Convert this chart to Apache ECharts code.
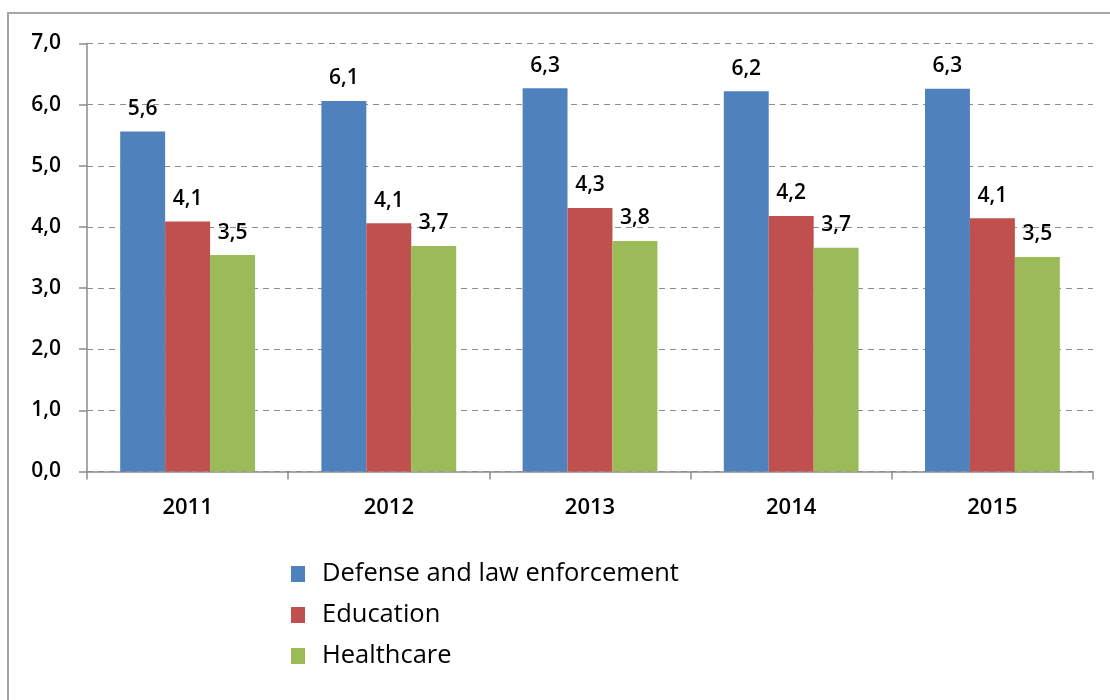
<!DOCTYPE html>
<html>
<head>
<meta charset="utf-8">
<script src="https://cdn.jsdelivr.net/npm/echarts@6/dist/echarts.min.js"></script>
<style>html,body{margin:0;padding:0;background:#fff}#c{width:1110px;height:700px}</style>
</head>
<body>
<div id="c"></div>
<script>
const categories = ['2011', '2012', '2013', '2014', '2015'];
const seriesNames = ['Defense and law enforcement', 'Education', 'Healthcare'];
const defense = [5.56, 6.06, 6.27, 6.22, 6.26];
const education = [4.09, 4.06, 4.31, 4.18, 4.14];
const healthcare = [3.54, 3.69, 3.77, 3.66, 3.51];
const colors = ['#4F81BD', '#C0504D', '#9BBB59'];

const fmt = v => Number(v).toFixed(1).replace('.', ',');
const FONT = '"Open Sans", "Noto Sans", sans-serif';

const chart = echarts.init(document.getElementById('c'), null, {renderer: 'canvas'});
const mk = (name, data, color) => ({
  name, type: 'bar', data,
  barGap: '0%', barCategoryGap: '33%',
  itemStyle: {color},
  label: {
    show: true, position: 'top', distance: 12,
    formatter: p => fmt(p.value),
    fontFamily: FONT, fontSize: 21, fontWeight: 600, color: '#000'
  }
});
chart.setOption({
  animation: false,
  color: colors,
  graphic: [{
    type: 'rect', silent: true,
    shape: {x: 8, y: 13, width: 1200, height: 800},
    style: {fill: 'none', stroke: '#a6a6a6', lineWidth: 2}
  }],
  grid: {left: 87, right: 17, top: 43.5, bottom: 228.5, containLabel: false},
  xAxis: {
    type: 'category', data: categories,
    axisLine: {lineStyle: {color: '#8c8c8c', width: 1.5}},
    axisTick: {show: true, alignWithLabel: false, length: 8, lineStyle: {color: '#8c8c8c', width: 1.5}},
    axisLabel: {margin: 25, fontFamily: FONT, fontSize: 22, fontWeight: 600, color: '#000'}
  },
  yAxis: {
    type: 'value', min: 0, max: 7, interval: 1,
    axisLine: {show: true, lineStyle: {color: '#8c8c8c', width: 1.5}},
    axisTick: {show: true, length: 8, lineStyle: {color: '#8c8c8c', width: 1.5}},
    axisLabel: {margin: 26, formatter: v => fmt(v), fontFamily: FONT, fontSize: 21, fontWeight: 600, color: '#000'},
    splitLine: {show: true, lineStyle: {color: '#8c8c8c', type: [6, 5], width: 1.2}}
  },
  legend: {
    orient: 'vertical', left: 286, top: 556,
    itemWidth: 14, itemHeight: 16, itemGap: 15,
    icon: 'rect',
    data: seriesNames,
    textStyle: {fontFamily: FONT, fontSize: 25.5, lineHeight: 22, color: '#000', padding: [0, 0, 0, 12]}
  },
  series: [
    mk(seriesNames[0], defense, colors[0]),
    mk(seriesNames[1], education, colors[1]),
    mk(seriesNames[2], healthcare, colors[2])
  ]
});
</script>
</body>
</html>
